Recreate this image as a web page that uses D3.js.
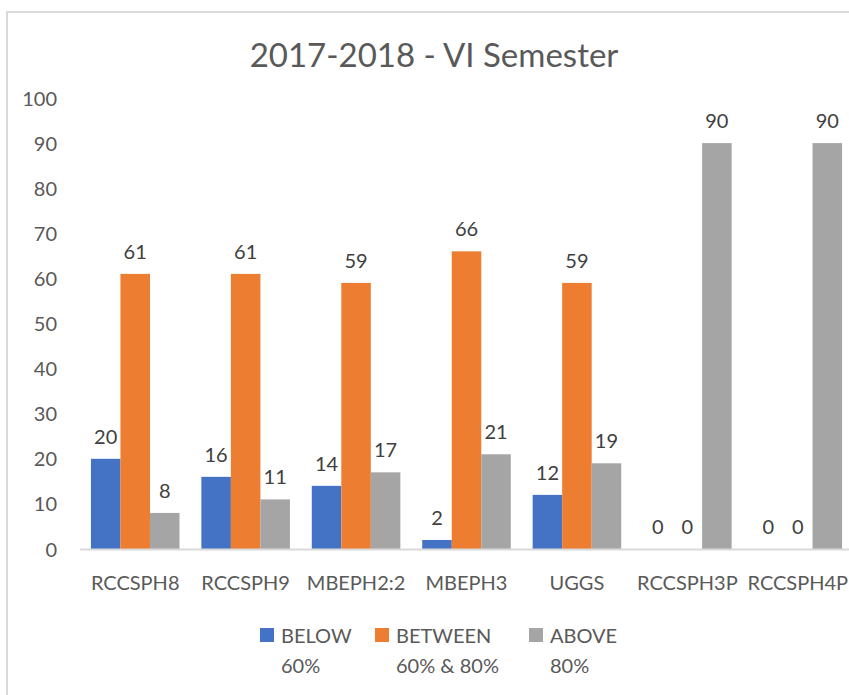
<!DOCTYPE html>
<html><head><meta charset="utf-8">
<script src="https://cdn.jsdelivr.net/npm/d3@7"></script>
<style>
html,body{margin:0;padding:0;background:#fff;overflow:hidden}
svg{display:block;font-family:Lato,"Open Sans",sans-serif}
</style></head>
<body><svg id="c" width="849" height="695"></svg>
<script>
const categories = ["RCCSPH8","RCCSPH9","MBEPH2:2","MBEPH3","UGGS","RCCSPH3P","RCCSPH4P"];
const seriesNames = ["BELOW 60%","BETWEEN 60% & 80%","ABOVE 80%"];
const legendLines = [["BELOW","60%"],["BETWEEN","60% & 80%"],["ABOVE","80%"]];
const below = [20,16,14,2,12,0,0];
const between = [61,61,59,66,59,0,0];
const above = [8,11,17,21,19,90,90];
const yTicks = [0,10,20,30,40,50,60,70,80,90,100];
const colors = ["#4472C4","#ED7D31","#A5A5A5"];
const title = "2017-2018 - VI Semester";

const series = [below, between, above];
const svg = d3.select("#c");

// chart border
svg.append("rect").attr("x",7).attr("y",12).attr("width",900).attr("height",800)
  .attr("fill","none").attr("stroke","#d9d9d9").attr("stroke-width",2);

const x = d3.scaleBand().domain(categories).range([80,853]).paddingInner(0.198).paddingOuter(0.099);
const xs = d3.scaleBand().domain(d3.range(3)).range([0,x.bandwidth()]);
const y = d3.scaleLinear().domain([0,100]).range([549,98]);

// title
svg.append("text").attr("x",434).attr("y",67).attr("text-anchor","middle")
  .attr("fill","#595959").style("font-size","33px").text(title);

// y axis
const yAxis = d3.axisLeft(y).tickValues(yTicks).tickSize(0).tickPadding(0);
const ga = svg.append("g").attr("transform","translate(57,0)").call(yAxis);
ga.select(".domain").remove();
ga.selectAll("text").attr("fill","#595959").style("font-size","20px").style("font-family","Lato").attr("dy","0.35em");

// bars
const groups = svg.append("g").selectAll("g").data(categories).join("g")
  .attr("transform",d=>`translate(${x(d)},0)`);
series.forEach((s,si)=>{
  groups.append("rect")
    .attr("x",xs(si)).attr("width",xs.bandwidth())
    .attr("y",(d,i)=>y(s[i])).attr("height",(d,i)=>y(0)-y(s[i]))
    .attr("fill",colors[si]);
  groups.append("text")
    .attr("x",xs(si)+xs.bandwidth()/2).attr("y",(d,i)=>y(s[i])-15)
    .attr("text-anchor","middle").attr("fill","#404040").style("font-size","20px")
    .text((d,i)=>s[i]);
});

// x axis line
svg.append("line").attr("x1",80).attr("x2",860).attr("y1",549.5).attr("y2",549.5)
  .attr("stroke","#d9d9d9").attr("stroke-width",2);
const xAxis = d3.axisBottom(x).tickSize(0).tickPadding(0);
const gx = svg.append("g").attr("transform","translate(0,590)").call(xAxis);
gx.select(".domain").remove();
gx.selectAll("text").attr("fill","#595959").style("font-size","20px").style("font-family","Lato").attr("dy","0");

// legend
const legX = [260,375,529];
const lg = svg.append("g").selectAll("g").data(seriesNames).join("g");
lg.append("rect").attr("x",(d,i)=>legX[i]).attr("y",628).attr("width",14).attr("height",14)
  .attr("fill",(d,i)=>colors[i]);
lg.each(function(d,i){
  const tx = d3.select(this).append("text").attr("fill","#595959").style("font-size","20px");
  legendLines[i].forEach((ln,j)=>{
    tx.append("tspan").attr("x",legX[i]+21).attr("y",643+30*j).text(ln);
  });
});
</script></body></html>
